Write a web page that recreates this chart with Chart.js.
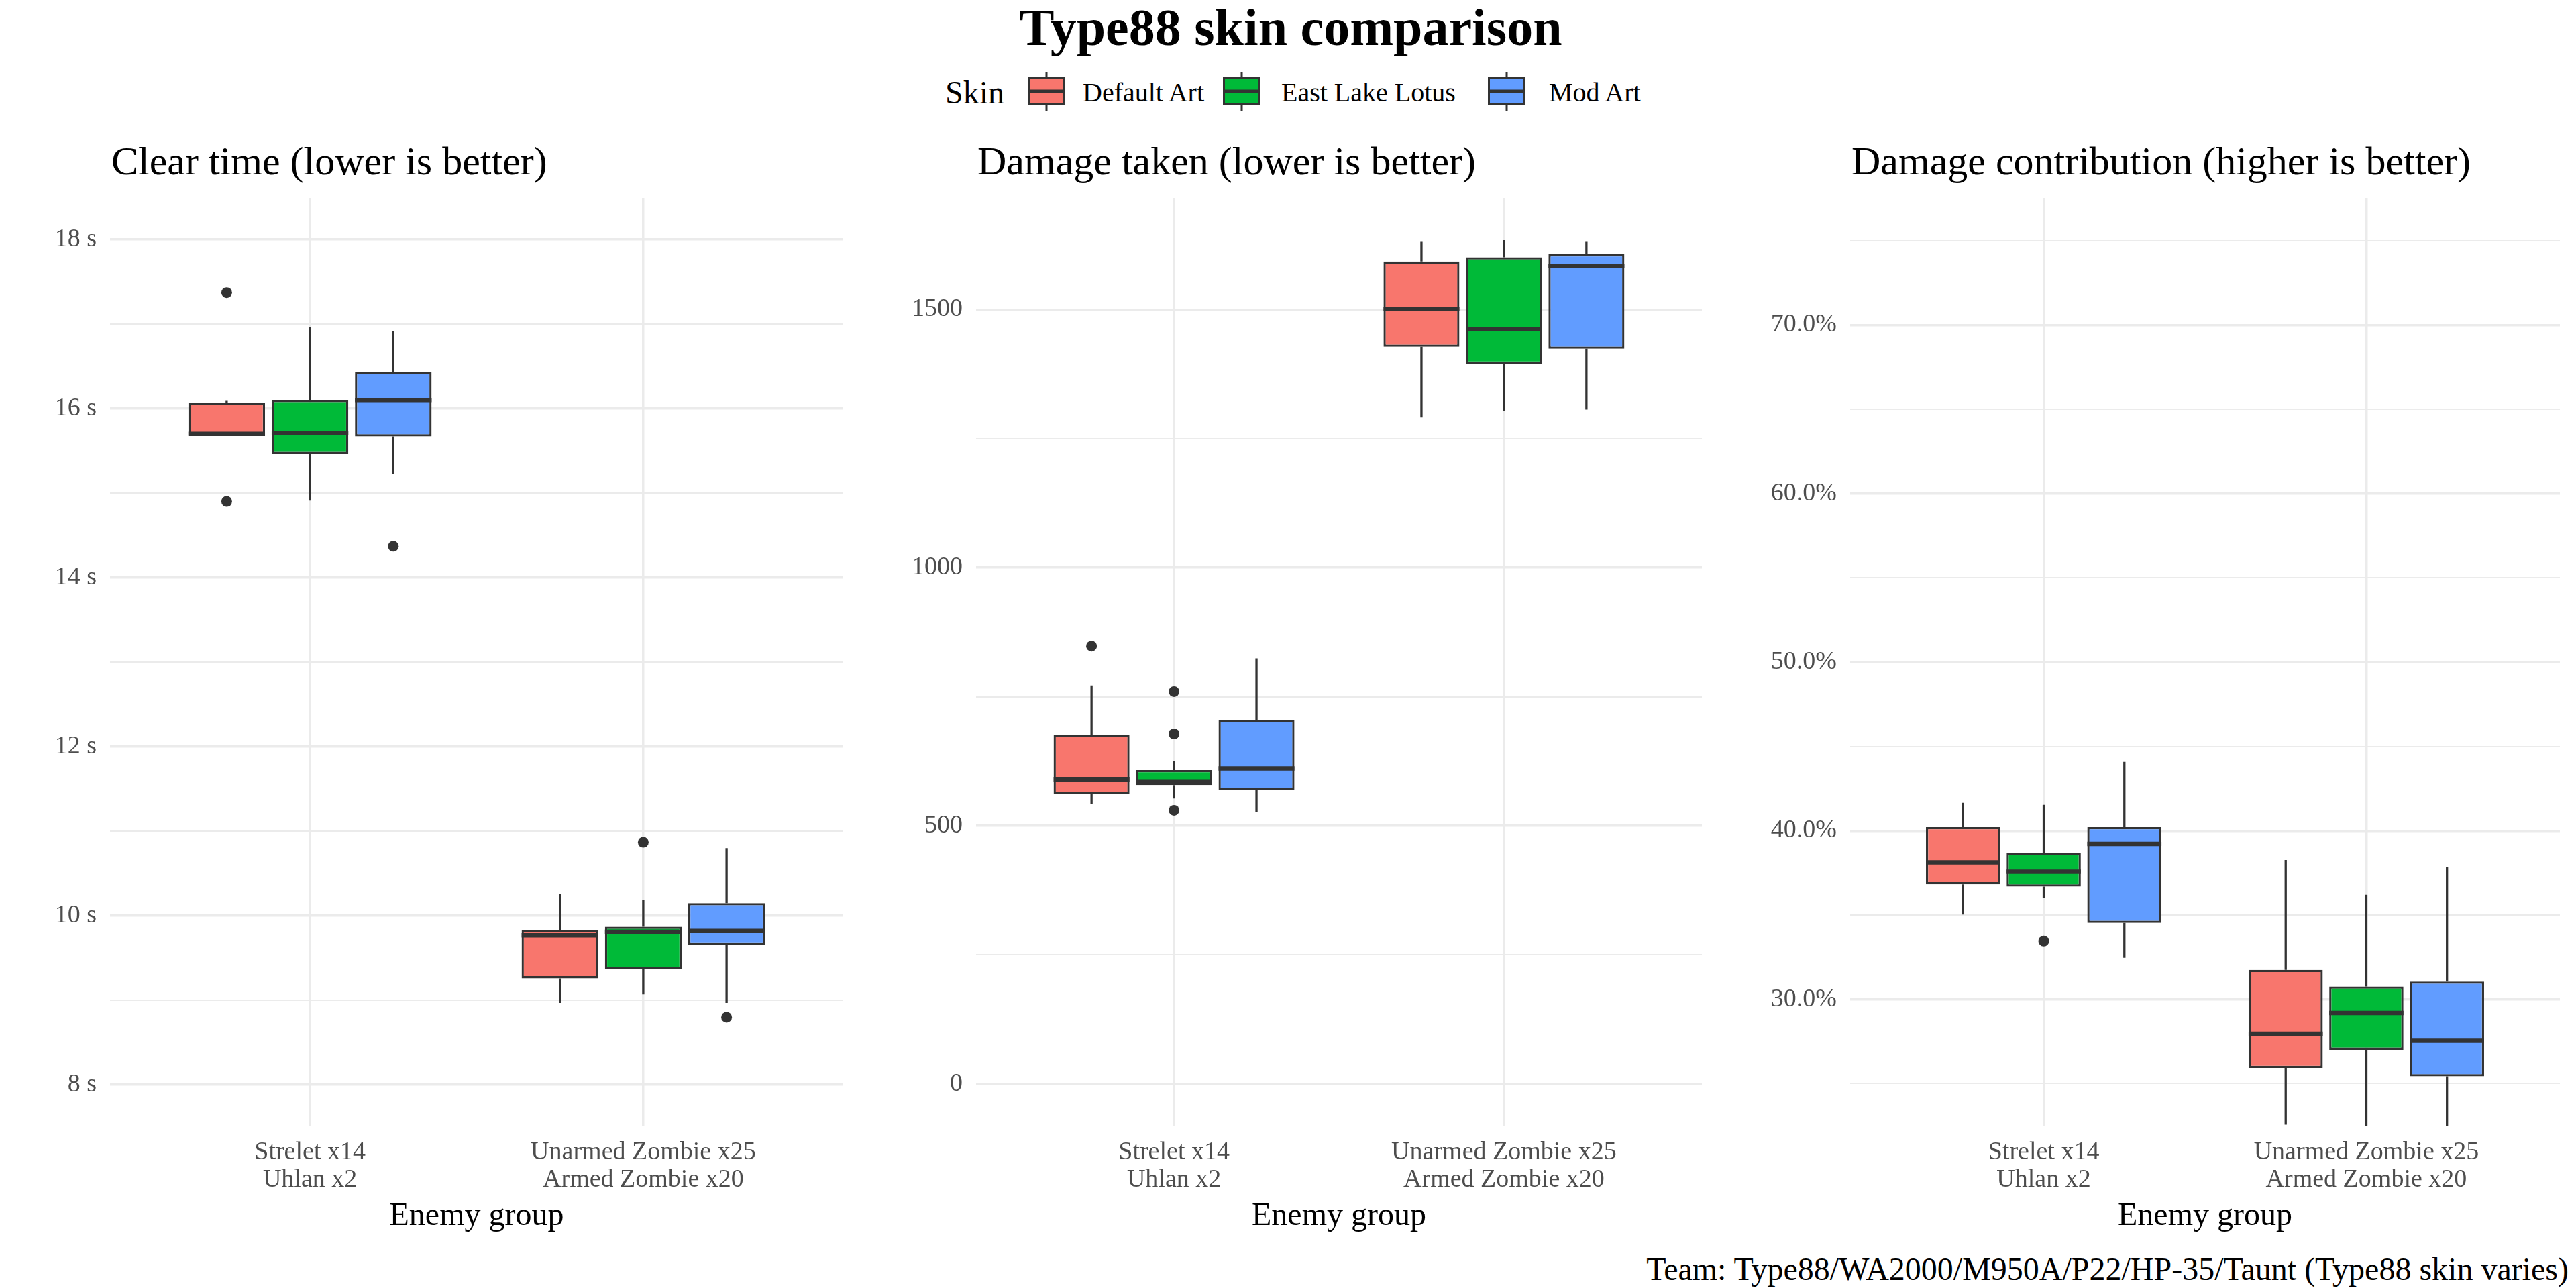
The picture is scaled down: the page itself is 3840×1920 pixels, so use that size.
<!DOCTYPE html>
<html>
<head>
<meta charset="utf-8">
<title>Type88 skin comparison</title>
<script src="https://cdn.jsdelivr.net/npm/chart.js@4.4.1/dist/chart.umd.min.js"></script>
<style>
  body { margin: 0; width: 3840px; height: 1920px; background: #fff; position: relative; overflow: hidden;
         font-family: "Liberation Serif", "DejaVu Serif", serif; color: #000; }
  .txt { position: absolute; white-space: nowrap; line-height: 1; }
  .panel { position: absolute; }
  .key { position: absolute; top: 107px; }
</style>
</head>
<body>

<div class="txt" style="left:924px; width:2000px; top:2px; text-align:center; font-size:78px; font-weight:bold;">Type88 skin comparison</div>

<div class="txt" style="left:1409px; top:114px; font-size:48px;">Skin</div>
<canvas class="key" id="key0" width="56" height="58" style="left:1532px"></canvas>
<div class="txt" style="left:1614px; top:118px; font-size:40px;">Default Art</div>
<canvas class="key" id="key1" width="56" height="58" style="left:1823px"></canvas>
<div class="txt" style="left:1910px; top:118px; font-size:40px;">East Lake Lotus</div>
<canvas class="key" id="key2" width="56" height="58" style="left:2218px"></canvas>
<div class="txt" style="left:2309px; top:118px; font-size:40px;">Mod Art</div>

<div class="txt" style="left:166px; top:210px; font-size:60px;">Clear time (lower is better)</div>
<div class="txt" style="left:1457px; top:210px; font-size:60px;">Damage taken (lower is better)</div>
<div class="txt" style="left:2760px; top:210px; font-size:60px;">Damage contribution (higher is better)</div>

<canvas class="panel" id="clearChart" width="1270" height="1580" style="left:0px; top:280px;"></canvas>
<canvas class="panel" id="damageChart" width="1270" height="1580" style="left:1280px; top:280px;"></canvas>
<canvas class="panel" id="contribChart" width="1260" height="1580" style="left:2580px; top:280px;"></canvas>

<div class="txt" style="right:11px; top:1868px; font-size:48px;">Team: Type88/WA2000/M950A/P22/HP-35/Taunt (Type88 skin varies)</div>

<script>
const groupLabels = [["Strelet x14", "Uhlan x2"], ["Unarmed Zombie x25", "Armed Zombie x20"]];
const skins = ["Default Art", "East Lake Lotus", "Mod Art"];
const skinColors = ["#F8766D", "#00BA38", "#619CFF"];

// box summaries per enemy group: [lower whisker, Q1, median, Q3, upper whisker]
const clearDefault = [[15.69, 15.69, 15.70, 16.07, 16.09], [8.97, 9.26, 9.77, 9.83, 10.26]];
const clearLotus   = [[14.91, 15.46, 15.71, 16.10, 16.96], [9.07, 9.37, 9.81, 9.87, 10.19]];
const clearMod     = [[15.23, 15.67, 16.10, 16.43, 16.92], [8.97, 9.66, 9.82, 10.15, 10.80]];
const clearOutDefault = [[17.37, 14.90], []];
const clearOutLotus   = [[], [10.87]];
const clearOutMod     = [[14.37], [8.80]];

const damageDefault = [[542, 562, 590, 676, 772], [1291, 1428, 1501, 1593, 1631]];
const damageLotus   = [[553, 579, 586, 608, 626], [1303, 1395, 1462, 1601, 1634]];
const damageMod     = [[526, 569, 611, 705, 824], [1306, 1424, 1584, 1607, 1631]];
const damageOutDefault = [[848], []];
const damageOutLotus   = [[760, 678, 530], []];
const damageOutMod     = [[], []];

// percent of team damage
const contribDefault = [[35.03, 36.82, 38.12, 40.21, 41.65], [22.56, 25.92, 27.95, 31.74, 38.26]];
const contribLotus   = [[36.01, 36.69, 37.56, 38.68, 41.53], [22.3, 27.00, 29.19, 30.76, 36.20]];
const contribMod     = [[32.46, 34.53, 39.21, 40.21, 44.08], [22.3, 25.42, 27.53, 31.05, 37.86]];
const contribOutDefault = [[], []];
const contribOutLotus   = [[33.45], []];
const contribOutMod     = [[], []];

// labelled (major) ticks; minor grid lines fall halfway between them
const clearTicks = [8, 10, 12, 14, 16, 18];
const damageTicks = [0, 500, 1000, 1500];
const contribTicks = [30, 40, 50, 60, 70];

const ink = "#333333";
const gridColor = "#EBEBEB";
const tickColor = "#4D4D4D";
const serif = "'Liberation Serif', 'DejaVu Serif', serif";

// legend keys
skinColors.forEach((c, i) => {
  const k = document.getElementById("key" + i).getContext("2d");
  k.strokeStyle = ink;
  k.lineWidth = 3;
  k.beginPath();
  k.moveTo(28, 0); k.lineTo(28, 9);
  k.moveTo(28, 49); k.lineTo(28, 58);
  k.stroke();
  k.fillStyle = c;
  k.fillRect(1.5, 9.5, 53, 39);
  k.strokeRect(1.5, 9.5, 53, 39);
  k.lineWidth = 5;
  k.beginPath();
  k.moveTo(1.5, 29); k.lineTo(54.5, 29);
  k.stroke();
});

// whiskers, medians and outliers on top of the Q1-Q3 bars
const boxExtras = {
  id: "boxExtras",
  afterDatasetsDraw(chart) {
    const ctx = chart.ctx, y = chart.scales.y, a = chart.chartArea;
    ctx.save();
    ctx.beginPath();
    ctx.rect(a.left, a.top, a.right - a.left, a.bottom - a.top);
    ctx.clip();
    ctx.strokeStyle = ink;
    ctx.fillStyle = ink;
    chart.data.datasets.forEach((ds, di) => {
      chart.getDatasetMeta(di).data.forEach((bar, i) => {
        const [lo, q1, med, q3, hi] = ds.stats[i];
        const half = bar.width / 2;
        ctx.lineWidth = 3.3;
        ctx.beginPath();
        ctx.moveTo(bar.x, y.getPixelForValue(q3));
        ctx.lineTo(bar.x, y.getPixelForValue(hi));
        ctx.moveTo(bar.x, y.getPixelForValue(q1));
        ctx.lineTo(bar.x, y.getPixelForValue(lo));
        ctx.stroke();
        ctx.lineWidth = 6.5;
        ctx.beginPath();
        ctx.moveTo(bar.x - half, y.getPixelForValue(med));
        ctx.lineTo(bar.x + half, y.getPixelForValue(med));
        ctx.stroke();
        ds.outliers[i].forEach(v => {
          ctx.beginPath();
          ctx.arc(bar.x, y.getPixelForValue(v), 8, 0, Math.PI * 2);
          ctx.fill();
        });
      });
    });
    ctx.restore();
  }
};

function drawPanel(id, boxes, outliers, yMin, yMax, majors, fmt, yWidth, rightPad) {
  const half = (majors[1] - majors[0]) / 2;
  const gridValues = [];
  for (let v = majors[0] - half; v <= yMax; v += half) {
    if (v >= yMin) gridValues.push(v);
  }

  new Chart(document.getElementById(id), {
    type: "bar",
    data: {
      datasets: skins.map((s, si) => ({
        label: s,
        data: boxes[si].map((b, gi) => ({ x: gi + 1, y: [b[1], b[3]] })),
        stats: boxes[si],
        outliers: outliers[si],
        backgroundColor: skinColors[si],
        borderColor: ink,
        borderWidth: 3.3,
        borderSkipped: false,
        categoryPercentage: 0.75,
        barPercentage: 0.92
      }))
    },
    options: {
      responsive: false,
      animation: false,
      events: [],
      layout: { padding: { top: 15, right: rightPad, bottom: 0, left: 0 } },
      plugins: { legend: { display: false }, tooltip: { enabled: false } },
      scales: {
        x: {
          type: "linear",
          min: 0.4,
          max: 2.6,
          offset: false,
          border: { display: false },
          grid: { offset: false, color: gridColor, lineWidth: 3.5, drawTicks: false },
          ticks: {
            padding: 18,
            color: tickColor,
            font: { family: serif, size: 38, lineHeight: 1.08 },
            maxRotation: 0,
            callback: v => groupLabels[v - 1] || ""
          },
          afterBuildTicks: s => { s.ticks = groupLabels.map((g, i) => ({ value: i + 1 })); },
          title: {
            display: true,
            text: "Enemy group",
            color: "#000",
            font: { family: serif, size: 48, lineHeight: 1.2 },
            padding: { top: 0, bottom: 18 }
          },
          afterFit: s => { s.height = 181; s.paddingLeft = 0; s.paddingRight = 0; }
        },
        y: {
          min: yMin,
          max: yMax,
          border: { display: false },
          grid: {
            color: gridColor,
            drawTicks: false,
            lineWidth: c => (majors.includes(c.tick.value) ? 3.5 : 2)
          },
          ticks: {
            padding: 20,
            color: tickColor,
            font: { family: serif, size: 38 },
            callback: v => (majors.includes(v) ? fmt(v) : "")
          },
          afterBuildTicks: s => { s.ticks = gridValues.map(v => ({ value: v })); },
          afterFit: s => { s.width = yWidth; s.paddingTop = 0; s.paddingBottom = 0; }
        }
      }
    },
    plugins: [boxExtras]
  });
}

drawPanel("clearChart",
  [clearDefault, clearLotus, clearMod],
  [clearOutDefault, clearOutLotus, clearOutMod],
  7.51, 18.49, clearTicks, v => v + " s", 164, 13);

drawPanel("damageChart",
  [damageDefault, damageLotus, damageMod],
  [damageOutDefault, damageOutLotus, damageOutMod],
  -82, 1716, damageTicks, v => String(v), 175, 13);

drawPanel("contribChart",
  [contribDefault, contribLotus, contribMod],
  [contribOutDefault, contribOutLotus, contribOutMod],
  22.46, 77.54, contribTicks, v => v.toFixed(1) + "%", 178, 24);
</script>
</body>
</html>
